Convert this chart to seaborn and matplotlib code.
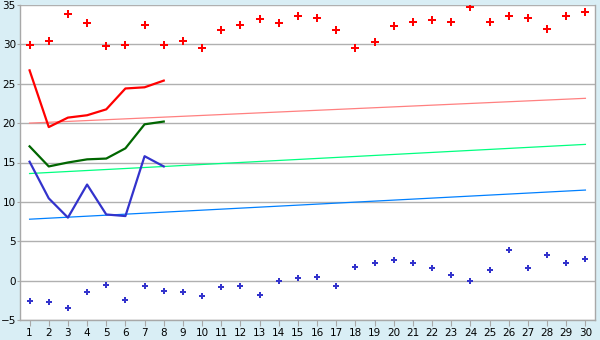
import matplotlib
matplotlib.use("Agg")
import matplotlib.pyplot as plt
import seaborn as sns
import pandas as pd
import numpy as np

days = list(range(1, 31))
record_high = [29.9, 30.4, 33.8, 32.7, 29.75, 29.9, 32.5, 29.9, 30.4, 29.5,
               31.8, 32.5, 33.2, 32.7, 33.6, 33.4, 31.8, 29.5, 30.3, 32.3,
               32.8, 33.05, 32.8, 34.8, 32.8, 33.6, 33.3, 32.0, 33.6, 34.1]
record_low = [-2.6, -2.75, -3.5, -1.5, -0.6, -2.4, -0.7, -1.35, -1.5, -2.0,
              -0.85, -0.7, -1.85, 0.0, 0.3, 0.42, -0.7, 1.7, 2.2, 2.6,
              2.2, 1.6, 0.7, 0.0, 1.3, 3.85, 1.6, 3.2, 2.3, 2.7]
obs_days = [1, 2, 3, 4, 5, 6, 7, 8]
obs_max = [26.7, 19.5, 20.7, 21.0, 21.75, 24.4, 24.55, 25.4]
obs_mean = [17.05, 14.5, 15.0, 15.4, 15.5, 16.8, 19.85, 20.2]
obs_min = [15.1, 10.45, 8.0, 12.2, 8.4, 8.2, 15.8, 14.5]
trend_days = [1, 30]
normal_max = [20.0, 23.15]
normal_mean = [13.6, 17.3]
normal_min = [7.8, 11.5]

bg = "#d9eef5"
fig = plt.figure(figsize=(6, 3.4), dpi=100, facecolor=bg)
ax = fig.add_axes([20/600, 1-320/340, 575/600, 315/340])
ax.set_facecolor("white")

df_rec = pd.DataFrame({"day": days, "high": record_high, "low": record_low})
df_obs = pd.DataFrame({"day": obs_days, "max": obs_max, "mean": obs_mean, "min": obs_min})
df_tr = pd.DataFrame({"day": trend_days, "max": normal_max, "mean": normal_mean, "min": normal_min})

sns.lineplot(data=df_tr, x="day", y="max", ax=ax, color="#ff8080", lw=0.9)
sns.lineplot(data=df_tr, x="day", y="mean", ax=ax, color="#00ff80", lw=0.9)
sns.lineplot(data=df_tr, x="day", y="min", ax=ax, color="#0080ff", lw=0.9)

sns.lineplot(data=df_obs, x="day", y="max", ax=ax, color="#ff0000", lw=1.6)
sns.lineplot(data=df_obs, x="day", y="mean", ax=ax, color="#006600", lw=1.6)
sns.lineplot(data=df_obs, x="day", y="min", ax=ax, color="#3333cc", lw=1.6)

sns.scatterplot(data=df_rec, x="day", y="high", ax=ax, color="#ff0000", marker="P", s=30, linewidth=0)
sns.scatterplot(data=df_rec, x="day", y="low", ax=ax, color="#3333cc", marker="P", s=24, linewidth=0)

ax.set_xlim(0.5, 30.5)
ax.set_ylim(-5, 35)
ax.set_xticks(days)
ax.set_yticks(range(-5, 36, 5))
ax.set_xlabel("")
ax.set_ylabel("")
ax.grid(axis="y", color="#b0b0b0", lw=1)
ax.set_axisbelow(True)
for side in ["left", "bottom", "right"]:
    ax.spines[side].set_color("#a8a8a8")
    ax.spines[side].set_linewidth(1)
ax.spines["top"].set_visible(False)
ax.tick_params(axis="x", length=4, color="#a8a8a8", labelsize=7.5, pad=2, labelcolor="black")
ax.tick_params(axis="y", length=2, color="#a8a8a8", labelsize=7.5, pad=1, labelcolor="black")

fig.savefig("out.png", dpi=100, facecolor=bg)
